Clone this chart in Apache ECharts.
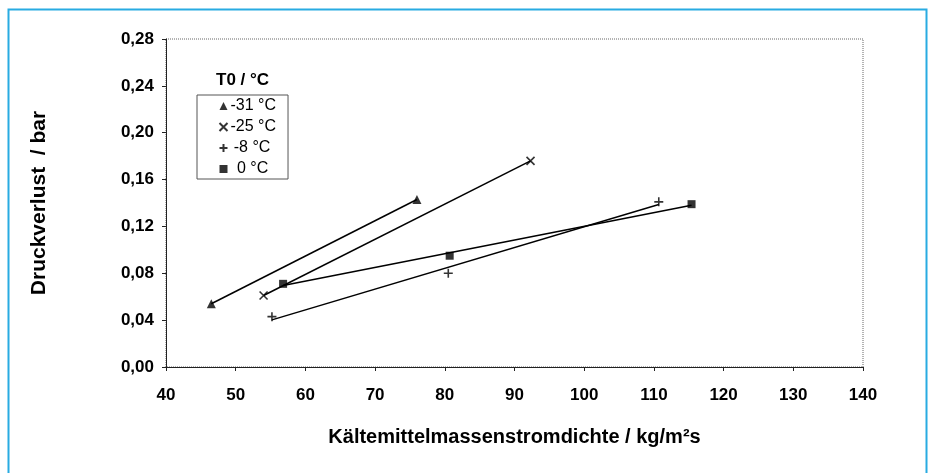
<!DOCTYPE html>
<html>
<head>
<meta charset="utf-8">
<script src="https://cdn.jsdelivr.net/npm/echarts@6/dist/echarts.min.js"></script>
<style>
  html, body { margin: 0; padding: 0; background: #fff; }
  #chart { width: 933px; height: 473px; }
</style>
</head>
<body>
<div id="chart"></div>
<script>
  const seriesNames = ['-31 °C', '-25 °C', '-8 °C', '0 °C']
  const massFluxM31 = [46.5, 76.0]
  const pressureDropM31 = [0.054, 0.143]
  const massFluxM25 = [54.0, 92.3]
  const pressureDropM25 = [0.061, 0.176]
  const massFluxM8 = [55.2, 80.5, 110.7]
  const pressureDropM8 = [0.043, 0.080, 0.141]
  const massFlux0 = [56.8, 80.7, 115.4]
  const pressureDrop0 = [0.071, 0.095, 0.139]

  const symbols = [
    'triangle',
    'path://M0,0L10,10M10,0L0,10',
    'path://M5,0L5,10M0,5L10,5',
    'rect'
  ]
  const filled = [true, false, false, true]
  const symbolSizes = [9, 8, 9, 8]
  // Legendentext etwas eingerueckt wie im Original
  const legendIndent = { '-31 °C': '', '-25 °C': '', '-8 °C': '\u2009', '0 °C': '\u2009\u2009' }

  const xs = [massFluxM31, massFluxM25, massFluxM8, massFlux0]
  const ys = [pressureDropM31, pressureDropM25, pressureDropM8, pressureDrop0]

  // lineare Trendlinie (kleinste Quadrate) ueber die Messpunkte
  function trend (x, y) {
    let n = x.length
    let mx = x.reduce((a, b) => a + b, 0) / n
    let my = y.reduce((a, b) => a + b, 0) / n
    let sxy = 0
    let sxx = 0
    for (let i = 0; i < n; i++) {
      sxy += (x[i] - mx) * (y[i] - my)
      sxx += (x[i] - mx) * (x[i] - mx)
    }
    let k = sxy / sxx
    let x0 = Math.min(...x)
    let x1 = Math.max(...x)
    return [[x0, my + k * (x0 - mx)], [x1, my + k * (x1 - mx)]]
  }

  let series = []
  seriesNames.forEach((name, i) => {
    series.push({
      name: name + ' trend',
      type: 'line',
      data: trend(xs[i], ys[i]),
      symbol: 'none',
      silent: true,
      lineStyle: { color: '#000', width: 1.5 },
      z: 2
    })
  })
  seriesNames.forEach((name, i) => {
    series.push({
      name: name,
      type: 'scatter',
      data: xs[i].map((v, j) => [v, ys[i][j]]),
      symbol: symbols[i],
      symbolSize: symbolSizes[i],
      itemStyle: filled[i]
        ? { color: '#000' }
        : { color: 'none', borderColor: '#000', borderWidth: 1.6 },
      z: 3
    })
  })

  const font = 'Arial, "Liberation Sans", sans-serif'
  let myChart = echarts.init(document.getElementById('chart'))
  myChart.setOption({
    backgroundColor: '#fff',
    animation: false,
    title: {
      text: 'T0 / °C',
      left: 216,
      top: 72,
      padding: 0,
      textStyle: { fontFamily: font, fontSize: 17, fontWeight: 'bold', color: '#000' }
    },
    legend: {
      data: seriesNames.map((n, i) => ({ name: n, icon: symbols[i] })),
      formatter: (name) => legendIndent[name] + name,
      orient: 'vertical',
      left: 197,
      top: 95,
      padding: [3, 12, 2, 20],
      itemGap: 5,
      itemWidth: 8,
      itemHeight: 8,
      borderColor: '#555',
      borderWidth: 1,
      backgroundColor: '#fff',
      textStyle: { fontFamily: font, fontSize: 16, color: '#000', padding: [0, 0, 0, -2] }
    },
    grid: {
      left: 166,
      top: 39,
      width: 697,
      height: 328,
      show: true,
      borderColor: '#666',
      borderWidth: 1,
      borderType: 'dotted'
    },
    xAxis: {
      type: 'value',
      min: 40,
      max: 140,
      interval: 10,
      name: 'Kältemittelmassenstromdichte / kg/m²s',
      nameLocation: 'middle',
      nameGap: 60,
      nameTextStyle: { fontFamily: font, fontSize: 20, fontWeight: 'bold', color: '#000' },
      axisLine: { onZero: false, lineStyle: { color: '#222', width: 1 } },
      axisTick: { show: true, length: 4, lineStyle: { color: '#222' } },
      axisLabel: { margin: 20, fontFamily: font, fontSize: 17, fontWeight: 'bold', color: '#000' },
      splitLine: { show: false }
    },
    yAxis: {
      type: 'value',
      min: 0,
      max: 0.28,
      interval: 0.04,
      name: 'Druckverlust  / bar',
      nameLocation: 'middle',
      nameGap: 116,
      nameTextStyle: { fontFamily: font, fontSize: 21, fontWeight: 'bold', color: '#000' },
      axisLine: { show: true, lineStyle: { color: '#222', width: 1 } },
      axisTick: { show: true, length: 4, lineStyle: { color: '#222' } },
      axisLabel: {
        margin: 12,
        fontFamily: font,
        fontSize: 17,
        fontWeight: 'bold',
        color: '#000',
        formatter: (v) => v.toFixed(2).replace('.', ',')
      },
      splitLine: { show: false }
    },
    graphic: [{
      type: 'rect',
      shape: { x: 8.5, y: 9.5, width: 918, height: 480 },
      style: { fill: 'none', stroke: '#29abe2', lineWidth: 2 },
      silent: true
    }],
    series: series
  })
</script>
</body>
</html>
